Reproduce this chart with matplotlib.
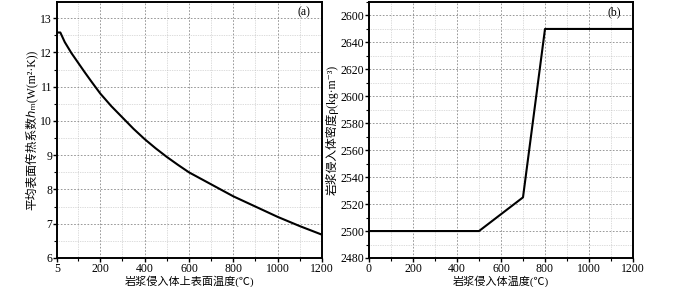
import numpy as np
import matplotlib.pyplot as plt
from matplotlib.ticker import MultipleLocator

plt.rcParams['font.family'] = ['Liberation Serif', 'Noto Sans CJK SC', 'DejaVu Sans']
plt.rcParams['font.size'] = 8

# (a) mean surface heat transfer coefficient vs top surface temperature
temp_a = [5, 20, 40, 70, 100, 130, 160, 200, 250, 300, 350, 400, 450, 500, 550,
          600, 700, 800, 900, 1000, 1100, 1200]
h_m = [12.58, 12.58, 12.3, 11.98, 11.7, 11.42, 11.15, 10.8, 10.43, 10.1, 9.77, 9.47, 9.2, 8.95, 8.72,
       8.5, 8.15, 7.8, 7.5, 7.2, 6.93, 6.68]

# (b) intrusion density vs temperature
temp_b = [0, 500, 700, 800, 1200]
rho = [2500, 2500, 2525, 2650, 2650]

a_xticks = [5, 200, 400, 600, 800, 1000, 1200]
b_yticks = [2480, 2500, 2520, 2540, 2560, 2580, 2600, 2620, 2640, 2660]
b_yticklabels = ['2480', '2500', '2520', '2540', '2560', '2580', '2600', '2620', '2640', '2600']

fig = plt.figure(figsize=(7, 2.87), dpi=100)
ax1 = fig.add_axes([57/700, 29/287, 265/700, 256/287])
ax2 = fig.add_axes([369/700, 29/287, 264/700, 256/287])


def style(ax):
    for s in ax.spines.values():
        s.set_linewidth(1.4)
    ax.tick_params(which='major', direction='out', length=3, width=1, pad=0.5, labelsize=8.5)
    ax.tick_params(which='minor', direction='out', length=2, width=0.8)
    ax.grid(which='major', color='#888888', linestyle=(0, (2, 2)), linewidth=0.6)
    ax.grid(which='minor', color='#bbbbbb', linestyle=(0, (1, 1.5)), linewidth=0.5)
    ax.set_axisbelow(True)


ax1.plot(temp_a, h_m, color='black', linewidth=1.5)
ax1.set_xlim(5, 1200)
ax1.set_ylim(6, 13.47)
ax1.set_xticks(a_xticks)
ax1.xaxis.set_minor_locator(MultipleLocator(100))
ax1.yaxis.set_major_locator(MultipleLocator(1))
ax1.yaxis.set_minor_locator(MultipleLocator(0.5))
style(ax1)
fig.text(189.5/700, 0, '岩浆侵入体上表面温度(℃)', fontsize=8, ha='center', va='bottom')
ax1.set_ylabel('平均表面传热系数ℎₘ(W(m²·K))', fontsize=8.5, labelpad=2)
ax1.text(0.93, 0.96, '(a)', transform=ax1.transAxes, ha='center', va='center', fontsize=8.5)

ax2.plot(temp_b, rho, color='black', linewidth=1.5)
ax2.set_xlim(0, 1200)
ax2.set_ylim(2480, 2670)
ax2.xaxis.set_major_locator(MultipleLocator(200))
ax2.xaxis.set_minor_locator(MultipleLocator(100))
ax2.set_yticks(b_yticks)
ax2.set_yticklabels(b_yticklabels)
ax2.yaxis.set_minor_locator(MultipleLocator(10))
style(ax2)
fig.text(501/700, 0, '岩浆侵入体温度(℃)', fontsize=8, ha='center', va='bottom')
ax2.set_ylabel('岩浆侵入体密度ρ(kg·m⁻³)', fontsize=8.5, labelpad=1)
ax2.text(0.93, 0.96, '(b)', transform=ax2.transAxes, ha='center', va='center', fontsize=8.5)

fig.savefig('out.png', dpi=100)
